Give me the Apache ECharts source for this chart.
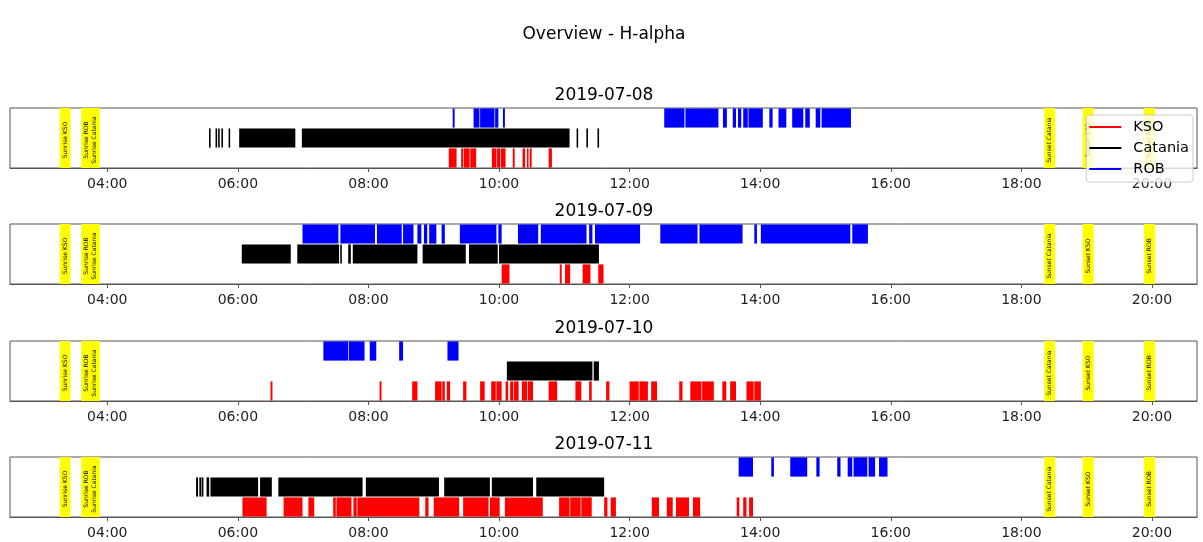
<!DOCTYPE html>
<html>
<head>
<meta charset="utf-8">
<title>Overview - H-alpha</title>
<script src="https://cdn.jsdelivr.net/npm/echarts@6/dist/echarts.min.js"></script>
<style>
  html, body { margin: 0; padding: 0; background: #ffffff; }
  #chart { width: 1203px; height: 542px; }
</style>
</head>
<body>
<div id="chart"></div>
<script>
// H-alpha observing windows per station and day.
// Times are decimal hours UTC; each window is [start, end].
const days = ['2019-07-08', '2019-07-09', '2019-07-10', '2019-07-11'];
const stations = ['KSO', 'Catania', 'ROB'];
const stationColors = ['#ff0000', '#000000', '#0000ff'];
const tickHours = [4, 6, 8, 10, 12, 14, 16, 18, 20];

// 2019-07-08
const kso_0708 = [[9.23, 9.35], [9.42, 9.45], [9.46, 9.55], [9.56, 9.65], [9.89, 9.96], [9.97, 10.02],
  [10.03, 10.10], [10.21, 10.24], [10.36, 10.40], [10.43, 10.45], [10.47, 10.50], [10.76, 10.81]];
const catania_0708 = [[5.56, 5.58], [5.66, 5.68], [5.70, 5.72], [5.75, 5.77], [5.86, 5.88], [6.02, 6.88],
  [6.98, 11.08], [11.19, 11.21], [11.34, 11.36], [11.51, 11.53]];
const rob_0708 = [[9.29, 9.32], [9.61, 9.70], [9.71, 9.93], [9.94, 9.99], [10.06, 10.09],
  [12.53, 12.84], [12.855, 13.36], [13.43, 13.49], [13.58, 13.63], [13.66, 13.71], [13.74, 13.81],
  [13.82, 14.04], [14.14, 14.19], [14.28, 14.40], [14.49, 14.66], [14.69, 14.76], [14.85, 14.92],
  [14.94, 15.39]];

// 2019-07-09
const kso_0709 = [[10.04, 10.16], [10.93, 10.96], [11.01, 11.09], [11.28, 11.40], [11.52, 11.60]];
const catania_0709 = [[6.06, 6.81], [6.91, 7.55], [7.57, 7.59], [7.69, 7.73], [7.76, 8.75], [8.83, 9.49],
  [9.54, 9.98], [10.00, 11.53]];
const rob_0709 = [[6.99, 7.54], [7.57, 8.10], [8.13, 8.51], [8.53, 8.69], [8.75, 8.81], [8.85, 8.90],
  [8.93, 9.04], [9.12, 9.17], [9.40, 9.96], [9.99, 10.04], [10.29, 10.60], [10.64, 11.34], [11.38, 11.43],
  [11.47, 12.16], [12.47, 13.04], [13.07, 13.73], [13.91, 13.95], [14.01, 15.38], [15.41, 15.65]];

// 2019-07-10
const kso_0710 = [[6.50, 6.53], [8.17, 8.20], [8.67, 8.75], [9.02, 9.12], [9.13, 9.17], [9.20, 9.25],
  [9.45, 9.50], [9.71, 9.78], [9.88, 9.95], [9.96, 10.04], [10.10, 10.14], [10.17, 10.22], [10.23, 10.30],
  [10.35, 10.43], [10.44, 10.52], [10.76, 10.89], [11.17, 11.26], [11.38, 11.42], [11.64, 11.69],
  [12.00, 12.14], [12.15, 12.28], [12.33, 12.42], [12.76, 12.81], [12.93, 13.10], [13.11, 13.29],
  [13.42, 13.48], [13.54, 13.63], [13.79, 13.90], [13.91, 14.01]];
const catania_0710 = [[10.12, 11.43], [11.45, 11.53]];
const rob_0710 = [[7.31, 7.69], [7.70, 7.94], [8.02, 8.12], [8.47, 8.53], [9.21, 9.38]];

// 2019-07-11
const kso_0711 = [[6.07, 6.44], [6.70, 6.99], [7.08, 7.17], [7.46, 7.50], [7.51, 7.74], [7.77, 7.82],
  [7.83, 8.78], [8.87, 8.92], [9.00, 9.39], [9.45, 9.84], [9.86, 10.01], [10.09, 10.67], [10.92, 11.08],
  [11.09, 11.25], [11.26, 11.42], [11.61, 11.66], [11.71, 11.79], [12.34, 12.45], [12.57, 12.66],
  [12.71, 12.91], [12.97, 13.08], [13.64, 13.68], [13.74, 13.79], [13.83, 13.89]];
const catania_0711 = [[5.36, 5.39], [5.41, 5.44], [5.45, 5.47], [5.52, 5.56], [5.58, 6.31], [6.34, 6.52],
  [6.62, 7.91], [7.96, 9.08], [9.16, 9.86], [9.89, 10.52], [10.57, 11.61]];
const rob_0711 = [[13.67, 13.89], [14.17, 14.21], [14.46, 14.72], [14.86, 14.91], [15.18, 15.23],
  [15.34, 15.41], [15.43, 15.64], [15.66, 15.76], [15.82, 15.95]];

// Sunrise / sunset at each site: [label, start hour]
const sunEvents = [
  ['Sunrise KSO', 3.27],
  ['Sunrise ROB', 3.60],
  ['Sunrise Catania', 3.72],
  ['Sunset Catania', 18.35],
  ['Sunset KSO', 18.94],
  ['Sunset ROB', 19.88]
];
const sunBandHours = 10 / 60;

// windows[day][station]
const windows = [
  [kso_0708, catania_0708, rob_0708],
  [kso_0709, catania_0709, rob_0709],
  [kso_0710, catania_0710, rob_0710],
  [kso_0711, catania_0711, rob_0711]
];

const FONT = 'DejaVu Sans';
const panelTops = [108, 224, 341, 457];
const panelHeight = 60;
const xMin = 2.51, xMax = 20.69;

function fmtHour(v) {
  const h = Math.round(v);
  return (h < 10 ? '0' : '') + h + ':00';
}

function renderWindow(params, api) {
  const start = api.value(0), end = api.value(1), row = api.value(2);
  const p0 = api.coord([start, row + 0.98]);
  const p1 = api.coord([end, row + 0.02]);
  let x = p0[0];
  let w = p1[0] - p0[0];
  const minW = 1.6;
  if (w < minW) { x -= (minW - w) / 2; w = minW; }
  return {
    type: 'rect',
    shape: { x: x, y: p0[1], width: w, height: p1[1] - p0[1] },
    style: { fill: api.visual('color') }
  };
}

function renderSunBand(params, api) {
  const ev = sunEvents[params.dataIndex];
  const p0 = api.coord([ev[1], 3]);
  const p1 = api.coord([ev[1] + sunBandHours, 0]);
  return {
    type: 'group',
    children: [
      {
        type: 'rect',
        shape: { x: p0[0], y: p0[1], width: p1[0] - p0[0], height: p1[1] - p0[1] },
        style: { fill: '#ffff00' }
      },
      {
        type: 'text',
        x: (p0[0] + p1[0]) / 2,
        y: (p0[1] + p1[1]) / 2 + 2,
        rotation: Math.PI / 2,
        style: {
          text: ev[0], fill: '#000000', fontFamily: FONT, fontSize: 6,
          align: 'center', verticalAlign: 'middle'
        }
      }
    ]
  };
}

const grids = [], xAxes = [], yAxes = [], series = [];
const titles = [{
  text: 'Overview - H-alpha', left: 604, top: 26, textAlign: 'center', padding: 0,
  textStyle: { fontFamily: FONT, fontSize: 17, fontWeight: 'normal', color: '#000000' }
}];

days.forEach((day, i) => {
  grids.push({
    left: 10, width: 1187, top: panelTops[i], height: panelHeight,
    show: true, borderColor: '#555555', borderWidth: 1, backgroundColor: 'transparent'
  });
  xAxes.push({
    type: 'value', gridIndex: i, min: xMin, max: xMax,
    axisLine: { show: true, lineStyle: { color: '#555555', width: 1 } },
    axisTick: { show: true, customValues: tickHours, length: 4, lineStyle: { color: '#555555' } },
    axisLabel: {
      show: true, customValues: tickHours, formatter: fmtHour, margin: 9,
      fontFamily: FONT, fontSize: 14, color: '#222222'
    },
    splitLine: { show: false }
  });
  yAxes.push({
    type: 'value', gridIndex: i, min: 0, max: 3, show: false, splitLine: { show: false }
  });
  titles.push({
    text: day, left: 604, top: panelTops[i] - 21, textAlign: 'center', padding: 0,
    textStyle: { fontFamily: FONT, fontSize: 17, fontWeight: 'normal', color: '#000000' }
  });
  series.push({
    type: 'custom', name: 'sun', xAxisIndex: i, yAxisIndex: i, z: 1, silent: true,
    renderItem: renderSunBand,
    data: sunEvents.map(ev => [ev[1], ev[1] + sunBandHours]),
    encode: { x: [0, 1] }
  });
  stations.forEach((st, s) => {
    series.push({
      type: 'custom', name: st, xAxisIndex: i, yAxisIndex: i, z: 3, silent: true,
      itemStyle: { color: stationColors[s] },
      renderItem: renderWindow,
      data: windows[i][s].map(w => [w[0], w[1], s]),
      encode: { x: [0, 1], y: 2 }
    });
  });
});

const chart = echarts.init(document.getElementById('chart'), null, { renderer: 'canvas' });
chart.setOption({
  animation: false,
  backgroundColor: '#ffffff',
  title: titles,
  legend: {
    orient: 'vertical', right: 10, top: 115, z: 10,
    icon: 'rect', itemWidth: 32, itemHeight: 2, itemGap: 3,
    padding: [3, 4, 4, 3],
    backgroundColor: 'rgba(255,255,255,0.8)', borderColor: '#cccccc', borderWidth: 1, borderRadius: 3,
    selectedMode: false,
    textStyle: { fontFamily: FONT, fontSize: 14.5, color: '#000000', lineHeight: 18, padding: [0, 0, 0, 7] },
    data: stations.map((st, s) => ({ name: st, itemStyle: { color: stationColors[s] } }))
  },
  grid: grids,
  xAxis: xAxes,
  yAxis: yAxes,
  series: series
});
</script>
</body>
</html>
